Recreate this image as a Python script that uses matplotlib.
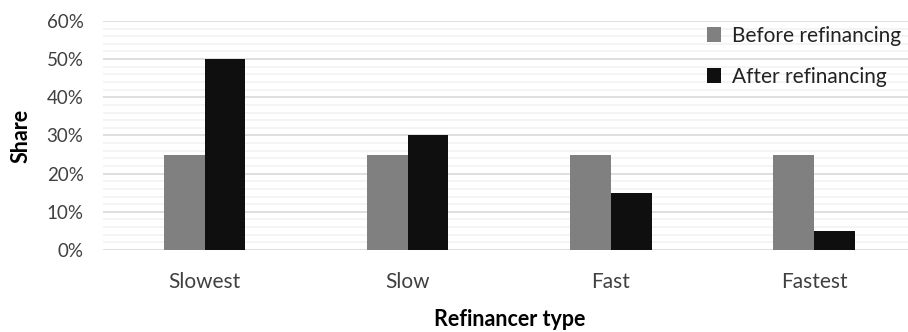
import numpy as np
import matplotlib.pyplot as plt
from matplotlib.ticker import MultipleLocator, PercentFormatter

categories = ["Slowest", "Slow", "Fast", "Fastest"]
before = [25, 25, 25, 25]
after = [50, 30, 15, 5]

plt.rcParams['font.family'] = ['Lato', 'DejaVu Sans']

fig = plt.figure(figsize=(9.08, 3.32), dpi=100)
ax = fig.add_axes([0.1134, 0.247, 0.895, 0.69])

x = np.arange(len(categories))
w = 0.2
ax.bar(x - w / 2, before, w, color='#808080', label='Before refinancing', zorder=3)
ax.bar(x + w / 2, after, w, color='#0f0f0f', label='After refinancing', zorder=3)

ax.set_ylim(0, 60)
ax.set_xlim(-0.5, 3.5)
ax.yaxis.set_major_locator(MultipleLocator(10))
ax.yaxis.set_minor_locator(MultipleLocator(2))
ax.yaxis.set_major_formatter(PercentFormatter(decimals=0))
ax.grid(axis='y', which='major', color='#d9d9d9', lw=1.2, zorder=0)
ax.grid(axis='y', which='minor', color='#f2f2f2', lw=1.2, zorder=0)
ax.set_xticks(x)
ax.set_xticklabels(categories)
ax.tick_params(axis='both', which='both', length=0, colors='#404040')
ax.tick_params(axis='x', pad=16, labelsize=15)
ax.tick_params(axis='y', pad=14, labelsize=13.5)
for s in ax.spines.values():
    s.set_visible(False)

ax.set_ylabel('Share', fontsize=15.5, fontweight='bold', labelpad=11)
ax.set_xlabel('Refinancer type', fontsize=15.5, fontweight='bold', labelpad=12)

ax.legend(loc='upper right', bbox_to_anchor=(1.005, 1.06), frameon=False, fontsize=15,
          handlelength=0.7, handleheight=0.7, handletextpad=0.5, labelspacing=1.0,
          labelcolor='#222222')

plt.savefig('out.png', dpi=100)
